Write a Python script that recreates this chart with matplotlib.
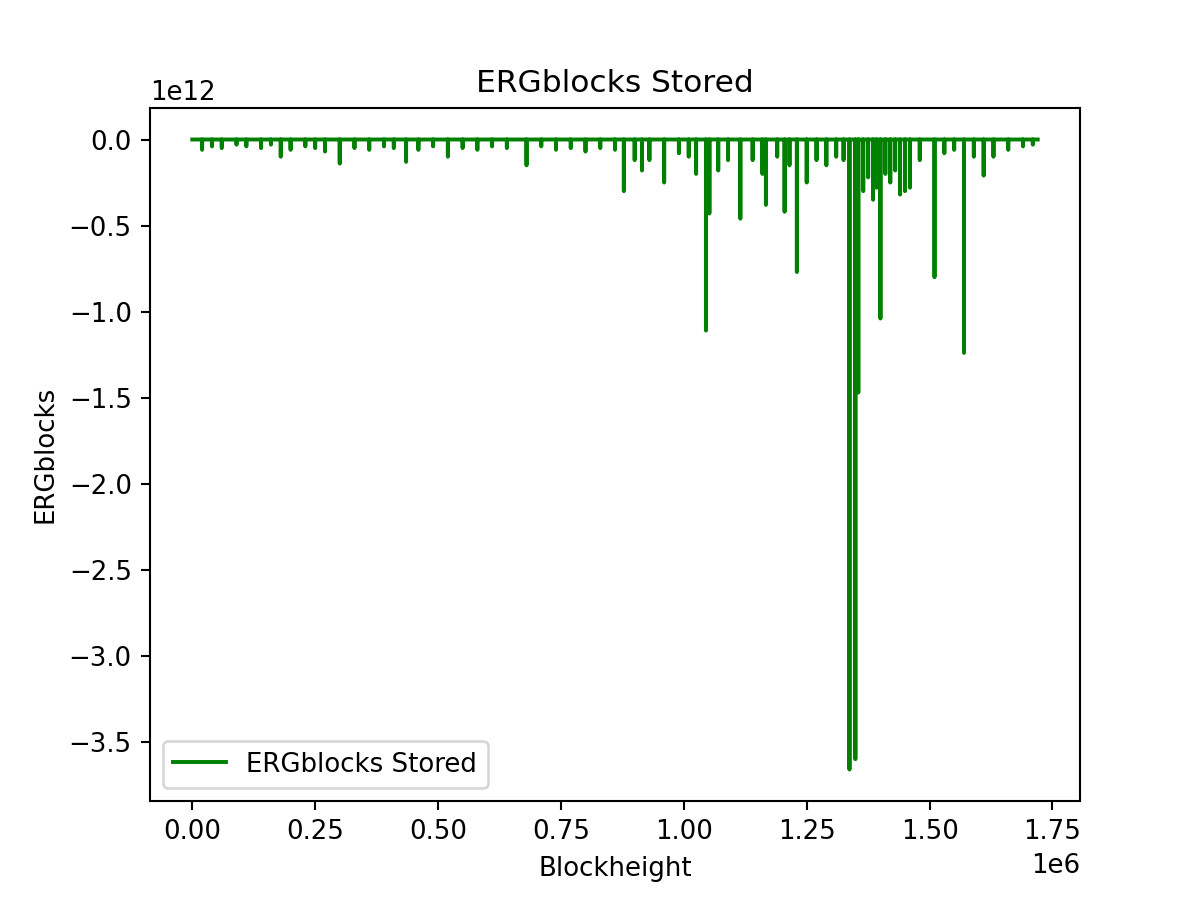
import matplotlib
matplotlib.use("Agg")
import matplotlib.pyplot as plt
import numpy as np

# spike positions (blockheight) and stored values (ERGblocks)
spike_heights = [
    0.02e6, 0.04e6, 0.06e6, 0.09e6, 0.11e6, 0.14e6, 0.16e6, 0.18e6, 0.20e6, 0.23e6,
    0.25e6, 0.27e6, 0.30e6, 0.33e6, 0.36e6, 0.39e6, 0.41e6, 0.435e6, 0.46e6, 0.49e6,
    0.52e6, 0.55e6, 0.58e6, 0.61e6, 0.64e6, 0.68e6, 0.71e6, 0.74e6, 0.77e6, 0.80e6,
    0.83e6, 0.86e6, 0.878e6, 0.90e6, 0.915e6, 0.93e6, 0.96e6, 0.99e6, 1.01e6, 1.025e6,
    1.045e6, 1.052e6, 1.07e6, 1.09e6, 1.115e6, 1.14e6, 1.16e6, 1.167e6, 1.19e6, 1.205e6,
    1.215e6, 1.23e6, 1.25e6, 1.27e6, 1.29e6, 1.31e6, 1.325e6, 1.337e6, 1.349e6, 1.355e6,
    1.365e6, 1.375e6, 1.385e6, 1.392e6, 1.40e6, 1.41e6, 1.42e6, 1.43e6, 1.44e6, 1.45e6,
    1.46e6, 1.48e6, 1.51e6, 1.53e6, 1.55e6, 1.57e6, 1.59e6, 1.61e6, 1.63e6, 1.66e6,
    1.69e6, 1.71e6,
]
spike_values = [
    -0.06e12, -0.04e12, -0.05e12, -0.03e12, -0.04e12, -0.05e12, -0.03e12, -0.10e12, -0.06e12, -0.04e12,
    -0.05e12, -0.07e12, -0.14e12, -0.05e12, -0.06e12, -0.04e12, -0.05e12, -0.13e12, -0.06e12, -0.04e12,
    -0.10e12, -0.05e12, -0.06e12, -0.04e12, -0.05e12, -0.15e12, -0.04e12, -0.06e12, -0.05e12, -0.07e12,
    -0.05e12, -0.06e12, -0.30e12, -0.12e12, -0.18e12, -0.12e12, -0.25e12, -0.08e12, -0.10e12, -0.20e12,
    -1.11e12, -0.43e12, -0.18e12, -0.12e12, -0.46e12, -0.12e12, -0.20e12, -0.38e12, -0.10e12, -0.42e12,
    -0.15e12, -0.77e12, -0.25e12, -0.12e12, -0.15e12, -0.10e12, -0.12e12, -3.66e12, -3.60e12, -1.47e12,
    -0.30e12, -0.22e12, -0.35e12, -0.28e12, -1.04e12, -0.20e12, -0.25e12, -0.18e12, -0.32e12, -0.30e12,
    -0.28e12, -0.12e12, -0.80e12, -0.08e12, -0.06e12, -1.24e12, -0.10e12, -0.21e12, -0.10e12, -0.06e12,
    -0.04e12, -0.03e12,
]
start_height = 0.0
end_height = 1.72e6

xs = [start_height]
ys = [0.0]
for h, v in zip(spike_heights, spike_values):
    xs += [h - 1, h, h + 1]
    ys += [0.0, v, 0.0]
xs.append(end_height)
ys.append(0.0)

fig, ax = plt.subplots(figsize=(6.4, 4.8), dpi=187.5)
ax.plot(xs, ys, color="green", label="ERGblocks Stored")
ax.set_title("ERGblocks Stored")
ax.set_xlabel("Blockheight")
ax.set_ylabel("ERGblocks")
ax.legend(loc="lower left")
fig.savefig("out.png")
